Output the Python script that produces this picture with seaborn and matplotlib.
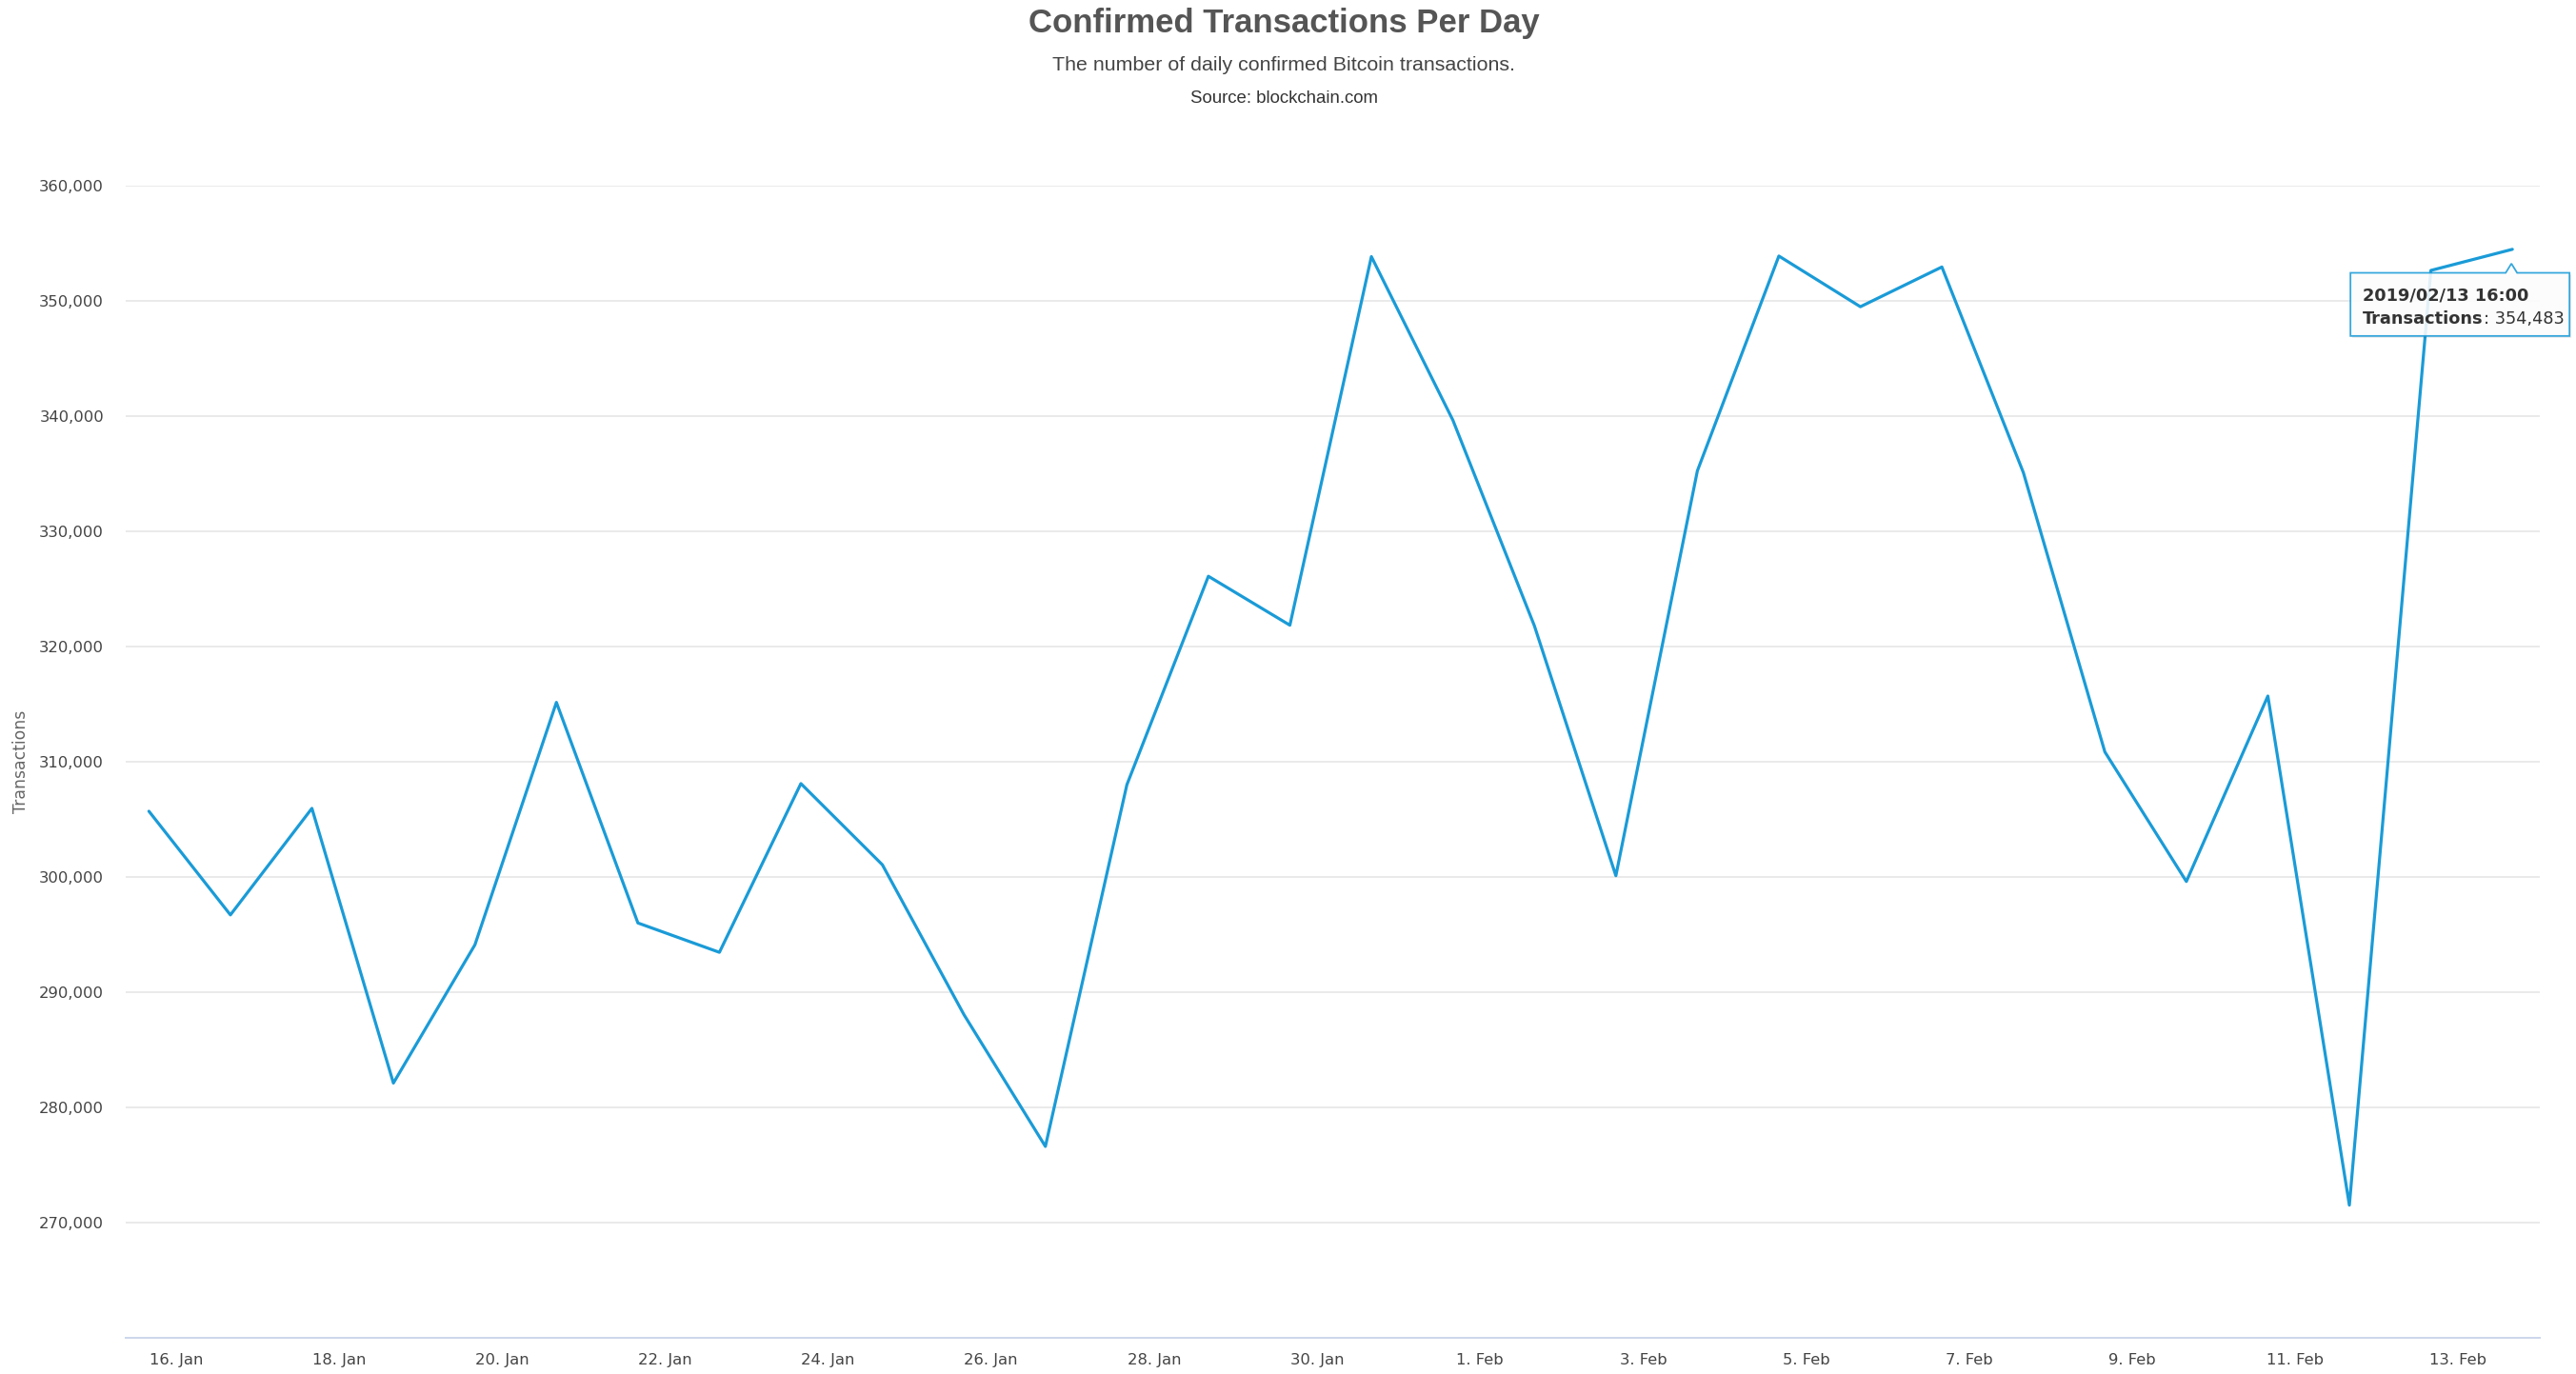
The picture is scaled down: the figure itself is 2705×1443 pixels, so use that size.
import pandas as pd
import numpy as np
import matplotlib.pyplot as plt
import matplotlib.dates as mdates
import matplotlib.ticker as mticker
import matplotlib.transforms as mtransforms
from matplotlib.patches import Polygon
import seaborn as sns

sns.set_style("white")
plt.rcParams['font.family'] = ['DejaVu Sans']

# daily confirmed transactions
dates = pd.date_range("2019-01-15 16:00", periods=30, freq="D")
transactions = [305700, 296700, 305950, 282100, 294100, 315150, 296000, 293450, 308100, 301050,
                288050, 276600, 308000, 326100, 321850, 353850, 339650, 321800, 300100, 335250,
                353900, 349500, 352950, 335100, 310850, 299600, 315700, 271500, 352650, 354483]
x_ticks = pd.date_range("2019-01-16", "2019-02-13", freq="2D")
y_ticks = list(range(270000, 360001, 10000))

LINE = "#1a9bd7"
W, H = 2705, 1443

df = pd.DataFrame({"date": dates, "transactions": transactions})

fig = plt.figure(figsize=(W / 100, H / 100), dpi=100)
ax = fig.add_axes([132 / W, 1 - 1404.8 / H, (2666.7 - 132) / W, (1404.8 - 195.1) / H])

sns.lineplot(data=df, x="date", y="transactions", color=LINE, linewidth=2.3, ax=ax, zorder=3)

ax.set_xlim(pd.Timestamp("2019-01-15 09:10"), pd.Timestamp("2019-02-14 00:00"))
ax.set_ylim(260000, 360000)
ax.set_xticks(x_ticks)
ax.set_yticks(y_ticks)
ax.xaxis.set_major_formatter(mdates.DateFormatter("%-d. %b"))
ax.yaxis.set_major_formatter(mticker.StrMethodFormatter("{x:,.0f}"))
ax.set_xlabel("")
ax.set_ylabel("")

ax.yaxis.grid(True, color="#e6e6e6", linewidth=1.2)
ax.xaxis.grid(False)
for s in ["top", "left", "right"]:
    ax.spines[s].set_visible(False)
ax.spines["bottom"].set_color("#ccd6eb")
ax.spines["bottom"].set_linewidth(1.4)
ax.tick_params(axis="x", length=10, width=1.2, color="#ccd6eb", pad=2,
               labelsize=11.8, labelcolor="#444444")
ax.tick_params(axis="y", length=0, pad=16.5, labelsize=11.8, labelcolor="#444444")

fig.text(21.7 / W, 1 - 800 / H, "Transactions", rotation=90, ha="center", va="center",
         fontsize=12.4, color="#666666")

# titles
fig.text(1348 / W, 1 - 34 / H, "Confirmed Transactions Per Day", ha="center", va="baseline",
         fontsize=25, fontweight="bold", color="#555555", family="Liberation Sans")
fig.text(1348 / W, 1 - 74 / H, "The number of daily confirmed Bitcoin transactions.",
         ha="center", va="baseline", fontsize=15.4, color="#444444", family="Liberation Sans")
fig.text(1348 / W, 1 - 108.5 / H, "Source: blockchain.com", ha="center", va="baseline",
         fontsize=13.4, color="#333333", family="Liberation Sans")

# tooltip on the last point
last_x = mdates.date2num(dates[-1])
last_y = transactions[-1]
px, py = ax.transData.transform((last_x, last_y))
callout = [(-170, -24.7), (-7, -24.7), (-1, -15), (5, -24.7), (60, -24.7), (60, -91), (-170, -91)]
shadow = Polygon(callout, closed=True, fc="black", ec="none", alpha=0.08,
                 transform=mtransforms.Affine2D().translate(px + 2, py - 2), zorder=4)
box = Polygon(callout, closed=True, fc="white", ec=LINE, lw=1.3, alpha=0.88,
              transform=mtransforms.Affine2D().translate(px, py), zorder=5)
for p in (shadow, box):
    ax.add_artist(p)
    p.set_clip_on(False)

ax.annotate(dates[-1].strftime("%Y/%m/%d %H:%M"), xy=(last_x, last_y), xytext=(-157, -54),
            textcoords="offset pixels", ha="left", va="baseline", fontsize=12.8,
            fontweight="bold", color="#333333", annotation_clip=False, zorder=6)
t2 = ax.annotate("Transactions", xy=(last_x, last_y), xytext=(-157, -78),
                 textcoords="offset pixels", ha="left", va="baseline", fontsize=12.8,
                 fontweight="bold", color="#333333", annotation_clip=False, zorder=6)
ax.annotate(f": {last_y:,}", xy=(1, 0), xycoords=t2, ha="left", va="bottom",
            fontsize=12.8, color="#333333", annotation_clip=False, zorder=6)

plt.savefig("out.png", dpi=100)
plt.close()
